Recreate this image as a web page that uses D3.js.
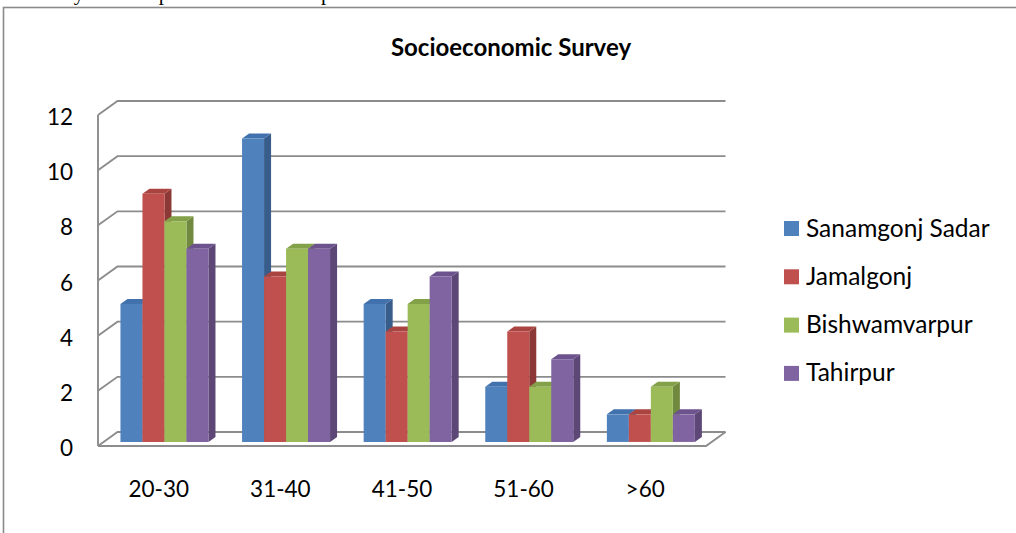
<!DOCTYPE html>
<html>
<head>
<meta charset="utf-8">
<script src="https://cdn.jsdelivr.net/npm/d3@7/dist/d3.min.js"></script>
<style>
  html, body { margin: 0; padding: 0; background: #fff; }
  svg { display: block; }
</style>
</head>
<body>
<svg id="chart" width="1016" height="533"></svg>
<script>
// Age groups along the horizontal axis
const categories = ["20-30", "31-40", "41-50", "51-60", ">60"];
// Respondent counts per upazila
const seriesNames = ["Sanamgonj Sadar", "Jamalgonj", "Bishwamvarpur", "Tahirpur"];
const sanamgonjSadar = [5, 11, 5, 2, 1];
const jamalgonj = [9, 6, 4, 4, 1];
const bishwamvarpur = [8, 7, 5, 2, 2];
const tahirpur = [7, 7, 6, 3, 1];
const yTicks = [0, 2, 4, 6, 8, 10, 12];

const seriesValues = [sanamgonjSadar, jamalgonj, bishwamvarpur, tahirpur];
const palette = [
  { front: "#4F81BD", top: "#4272AD", side: "#385D8A" },
  { front: "#C0504D", top: "#AA4441", side: "#8C3836" },
  { front: "#9BBB59", top: "#83A148", side: "#71893F" },
  { front: "#8064A2", top: "#6C538D", side: "#5C4776" }
];

const svg = d3.select("#chart");
const font = "Lato, 'Open Sans', sans-serif";

// Paragraph line above the figure, clipped by the page edge
svg.append("text")
  .attr("x", 2).attr("y", 0)
  .attr("font-family", "'Liberation Serif', 'DejaVu Serif', serif")
  .attr("font-size", 21)
  .attr("fill", "#000")
  .text("of Survey Area respondents have completed education above the SSC level.");

// Chart frame
svg.append("rect")
  .attr("x", 3.5).attr("y", 7.5)
  .attr("width", 1100).attr("height", 600)
  .attr("fill", "none")
  .attr("stroke", "#8a8a8a")
  .attr("stroke-width", 1.6);

// 3D projection: front plane plus a depth vector toward the back wall
const frontLeft = 98, frontRight = 706;
const depth = { dx: 19.5, dy: -14 };

const x = d3.scaleBand().domain(categories).range([frontLeft, frontRight]);
const xs = d3.scaleBand().domain(seriesNames).range([0, x.bandwidth()])
  .paddingInner(0).paddingOuter(0.764);
const y = d3.scaleLinear().domain([0, 12]).range([446, 446 - 331]);

const proj = (px, v, t) => [px + t * depth.dx, y(v) + t * depth.dy];

const gridColor = "#8c8c8c";
const walls = svg.append("g")
  .attr("fill", "none")
  .attr("stroke", gridColor)
  .attr("stroke-width", 1.9)
  .attr("stroke-linejoin", "miter");

// Gridlines running across the side wall and the back wall
yTicks.forEach(v => {
  const pts = [proj(frontLeft, v, 0), proj(frontLeft, v, 1), proj(frontRight, v, 1)];
  walls.append("path").attr("d", d3.line()(pts));
});
// Front edge of the side wall
walls.append("path").attr("d", d3.line()([proj(frontLeft, 0, 0), proj(frontLeft, 12, 0)]));
// Front and right edges of the floor
walls.append("path").attr("d", d3.line()([
  proj(frontLeft, 0, 0), proj(frontRight, 0, 0), proj(frontRight, 0, 1)
]));

// Value axis labels
svg.append("g").selectAll("text")
  .data(yTicks).join("text")
  .attr("x", 73)
  .attr("y", d => y(d) + 10)
  .attr("text-anchor", "end")
  .attr("font-family", font)
  .attr("font-size", 22.5)
  .attr("fill", "#000")
  .text(d => d);

// Category labels
svg.append("g").selectAll("text")
  .data(categories).join("text")
  .attr("x", d => x(d) + x.bandwidth() / 2)
  .attr("y", 497)
  .attr("text-anchor", "middle")
  .attr("font-family", font)
  .attr("font-size", 22.5)
  .attr("fill", "#000")
  .text(d => d);

// Bars as boxes: front face at depth t0, back at t1
const t0 = 0.29, t1 = 0.65;
const bars = svg.append("g");
categories.forEach((cat, ci) => {
  seriesNames.forEach((name, si) => {
    const v = seriesValues[si][ci];
    const xl = x(cat) + xs(name);
    const xr = xl + xs.bandwidth();
    const col = palette[si];
    const poly = pts => "M" + pts.map(p => p.join(",")).join("L") + "Z";
    // right side
    bars.append("path")
      .attr("d", poly([proj(xr, 0, t0), proj(xr, v, t0), proj(xr, v, t1), proj(xr, 0, t1)]))
      .attr("fill", col.side);
    // top
    bars.append("path")
      .attr("d", poly([proj(xl, v, t0), proj(xr, v, t0), proj(xr, v, t1), proj(xl, v, t1)]))
      .attr("fill", col.top);
    // front
    bars.append("path")
      .attr("d", poly([proj(xl, 0, t0), proj(xr, 0, t0), proj(xr, v, t0), proj(xl, v, t0)]))
      .attr("fill", col.front);
  });
});

// Title
svg.append("text")
  .attr("x", 511).attr("y", 56)
  .attr("text-anchor", "middle")
  .attr("font-family", font)
  .attr("font-weight", "bold")
  .attr("font-size", 24)
  .attr("fill", "#000")
  .text("Socioeconomic Survey");

// Legend
const legend = svg.append("g");
seriesNames.forEach((name, i) => {
  const cy = 228.5 + i * 48.3;
  legend.append("rect")
    .attr("x", 784).attr("y", cy - 7.5)
    .attr("width", 15).attr("height", 15)
    .attr("fill", palette[i].front);
  legend.append("text")
    .attr("x", 806).attr("y", cy + 8)
    .attr("font-family", font)
    .attr("font-size", 24.5)
    .attr("fill", "#000")
    .text(name);
});
</script>
</body>
</html>
